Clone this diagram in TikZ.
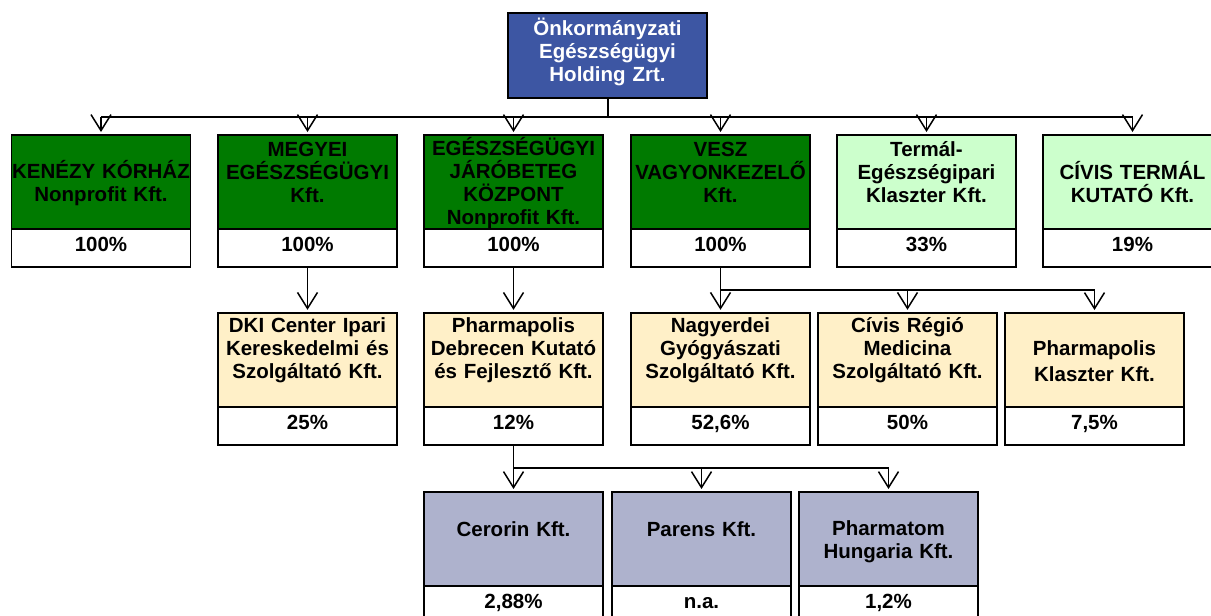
\documentclass[tikz,border=0pt]{standalone}
\usepackage{fontspec}
\setmainfont{Liberation Sans}
\usetikzlibrary{arrows.meta}
\definecolor{topblue}{RGB}{61,86,163}
\definecolor{dgreen}{RGB}{0,122,0}
\definecolor{lgreen}{RGB}{204,255,204}
\definecolor{lyellow}{RGB}{255,240,200}
\definecolor{lav}{RGB}{174,178,205}
\newcommand\st{\lineskiplimit=-100pt\relax\rule[-3pt]{0pt}{23pt}}
\tikzset{
  company/.style={draw=black, line width=1.8pt, outer sep=0pt, minimum width=179pt, minimum height=94pt,
    inner sep=0pt, text width=179pt, align=center,
    font=\bfseries\fontsize{20.5pt}{23pt}\selectfont},
  pct/.style={draw=black, fill=white, line width=1.8pt, outer sep=0pt, minimum width=179pt, minimum height=38pt,
    inner sep=0pt, text height=15pt, text depth=9pt, anchor=north,
    font=\bfseries\fontsize{20.5pt}{23pt}\selectfont},
  conn/.style={line width=1.6pt},
  arr/.style={conn, -{Straight Barb[length=16pt,width=20pt,line width=1.5pt]}, shorten >=3pt}
}
\begin{document}
\begin{tikzpicture}[x=1pt,y=-1pt]
\useasboundingbox[fill=white] (0,0) rectangle (1211,616);
% top
\node[company, fill=topblue, text=white, minimum width=199pt, minimum height=85pt, text width=199pt]
  (top) at (607.5,55.5) {\st Önkormányzati\\\st Egészségügyi\\\st Holding Zrt.\\[-15pt]\st};
% row 1
\node[company, fill=dgreen] (k1) at (101,182) {\st KENÉZY KÓRHÁZ\\\st Nonprofit Kft.};
\node[pct] (k1p) at (k1.south) {100\%};
\node[company, fill=dgreen] (k2) at (307.5,182) {\st MEGYEI\\\st EGÉSZSÉGÜGYI\\\st Kft.\\\st};
\node[pct] (k2p) at (k2.south) {100\%};
\node[company, fill=dgreen] (k3) at (513.5,182) {\st EGÉSZSÉGÜGYI\\\st JÁRÓBETEG\\\st KÖZPONT\\\st Nonprofit Kft.};
\node[pct] (k3p) at (k3.south) {100\%};
\node[company, fill=dgreen] (k4) at (720.5,182) {\st VESZ\\\st VAGYONKEZELŐ\\\st Kft.\\\st};
\node[pct] (k4p) at (k4.south) {100\%};
\node[company, fill=lgreen] (k5) at (926.5,182) {\st Termál-\\\st Egészségipari\\\st Klaszter Kft.\\\st};
\node[pct] (k5p) at (k5.south) {33\%};
\node[company, fill=lgreen] (k6) at (1132.5,182) {\st CÍVIS TERMÁL\\\st KUTATÓ Kft.};
\node[pct] (k6p) at (k6.south) {19\%};
% row 2
\node[company, fill=lyellow] (d1) at (307.5,360) {\st DKI Center Ipari\\\st Kereskedelmi és\\\st Szolgáltató Kft.\\\st};
\node[pct] (d1p) at (d1.south) {25\%};
\node[company, fill=lyellow] (d2) at (513.5,360) {\st Pharmapolis\\\st Debrecen Kutató\\\st és Fejlesztő Kft.\\\st};
\node[pct] (d2p) at (d2.south) {12\%};
\node[company, fill=lyellow] (d3) at (720.5,360) {\st Nagyerdei\\\st Gyógyászati\\\st Szolgáltató Kft.\\\st};
\node[pct] (d3p) at (d3.south) {52,6\%};
\node[company, fill=lyellow] (d4) at (907.5,360) {\st Cívis Régió\\\st Medicina\\\st Szolgáltató Kft.\\\st};
\node[pct] (d4p) at (d4.south) {50\%};
\node[company, fill=lyellow] (d5) at (1094.5,360) {\st Pharmapolis\\\st Klaszter Kft.};
\node[pct] (d5p) at (d5.south) {7,5\%};
% row 3
\node[company, fill=lav] (e1) at (513.5,539) {\st Cerorin Kft.\\\st};
\node[pct] (e1p) at (e1.south) {2,88\%};
\node[company, fill=lav] (e2) at (701.5,539) {\st Parens Kft.\\\st};
\node[pct] (e2p) at (e2.south) {n.a.};
\node[company, fill=lav] (e3) at (888.5,539) {\st Pharmatom\\\st Hungaria Kft.};
\node[pct] (e3p) at (e3.south) {1,2\%};
% connectors
\coordinate (bus1) at (607.5,117);
\coordinate (bus2) at (720.5,290);
\coordinate (bus3) at (513.5,468);
\draw[conn, line width=2pt] (top.south) -- (bus1);
\draw[conn] (k1.north |- bus1) -- (k6.north |- bus1);
\foreach \n in {k1,k2,k3,k4,k5,k6} \draw[arr] (\n.north |- bus1) -- (\n.north);
\draw[arr] (k2p.south) -- (d1.north);
\draw[arr] (k3p.south) -- (d2.north);
\draw[conn] (k4p.south) -- (bus2) -- (d5.north |- bus2);
\foreach \n in {d3,d4,d5} \draw[arr] (\n.north |- bus2) -- (\n.north);
\draw[conn] (d2p.south) -- (bus3) -- (e3.north |- bus3);
\foreach \n in {e1,e2,e3} \draw[arr] (\n.north |- bus3) -- (\n.north);
\end{tikzpicture}
\end{document}
